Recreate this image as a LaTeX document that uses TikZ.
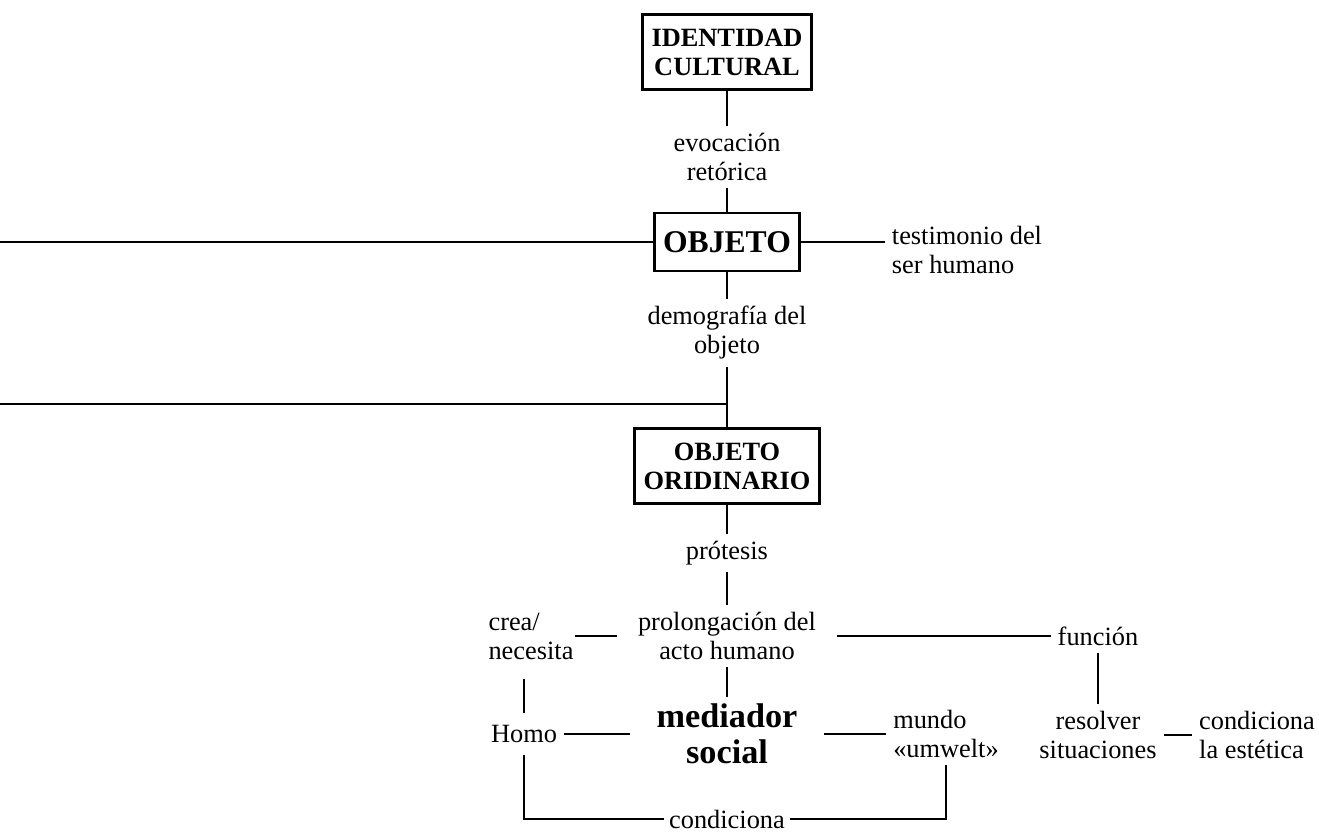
\documentclass[tikz,border=0pt]{standalone}
\usepackage{fontspec}
\setmainfont{Liberation Serif}
\usetikzlibrary{positioning}
\tikzstyle{every node}=[font=\fontsize{15}{16.5}\selectfont]
\tikzstyle{concept}=[draw,rectangle,align=center,inner xsep=5pt,inner ysep=8pt,font=\fontsize{15}{16.5}\selectfont\bfseries]
\tikzstyle{lbl}=[align=center]
\tikzstyle{core}=[align=center,inner xsep=0.5cm,font=\fontsize{19.5}{20.5}\selectfont\bfseries]

\begin{document}
\begin{tikzpicture}[line width=1.5pt]
            \useasboundingbox (-14.54,1.04) rectangle (11.84,-15.6);
            % main column
            \node[concept] (idc) {IDENTIDAD\\CULTURAL};
            \node[lbl, node distance=2.1cm, below of=idc] (evo) {evocación\\retórica};
            \node[concept, font=\fontsize{18}{20}\selectfont\bfseries, minimum height=33pt, node distance=1.7cm, below of=evo] (obj) {OBJETO};
            \node[lbl, node distance=1.82cm, below of=obj] (demo) {demografía del\\objeto};
            \node[concept, node distance=2.66cm, below of=demo] (ord) {OBJETO\\ORIDINARIO};
            \node[lbl, node distance=1.74cm, below of=ord] (pro) {prótesis};
            \node[lbl, inner xsep=0.4cm, node distance=1.66cm, below of=pro] (prol) {prolongación del\\acto humano};
            \node[core, node distance=1.96cm, below of=prol] (med) {mediador\\social};
            \node[lbl, inner xsep=2pt, node distance=1.7cm, below of=med] (cond) {condiciona};
            % side nodes
            \node[lbl, align=left, node distance=4.8cm, right of=obj, yshift=-0.16cm] (test) {testimonio del\\ser humano};
            \node[lbl, align=left, inner xsep=0pt, node distance=3.92cm, left of=prol] (crea) {crea/\\necesita};
            \node[lbl, inner ysep=6pt, node distance=4.06cm, left of=med] (homo) {Homo};
            \node[lbl, align=left, node distance=4.38cm, right of=med] (mundo) {mundo\\«umwelt»};
            \node[lbl, node distance=7.42cm, right of=prol] (func) {función};
            \node[lbl, node distance=1.98cm, below of=func] (res) {resolver\\situaciones};
            \node[lbl, align=left, node distance=3.18cm, right of=res] (est) {condiciona\\la estética};
            \coordinate[node distance=14.54cm, left of=obj] (objend);
            \coordinate[node distance=1.24cm, above of=ord] (jn);
            \coordinate[node distance=14.54cm, left of=jn] (jnend);
            % connectors
            \draw (idc) -- (evo);
            \draw (evo) -- (obj);
            \draw (objend) -- (obj);
            \draw (obj) -- (obj -| test.west);
            \draw (obj) -- (demo);
            \draw (demo) -- (ord);
            \draw (jnend) -- (jn);
            \draw (ord) -- (pro);
            \draw (pro) -- (prol);
            \draw (crea) -- (prol);
            \draw (prol) -- (func);
            \draw (prol) -- (med);
            \draw (func) -- (res);
            \draw (res) -- (est);
            \draw[shorten <=7pt] (crea.south -| homo) -- (homo);
            \draw (homo) -- (med);
            \draw (med) -- (mundo);
            \draw (homo) |- (cond);
            \draw (mundo) |- (cond);
        \end{tikzpicture}
\end{document}
